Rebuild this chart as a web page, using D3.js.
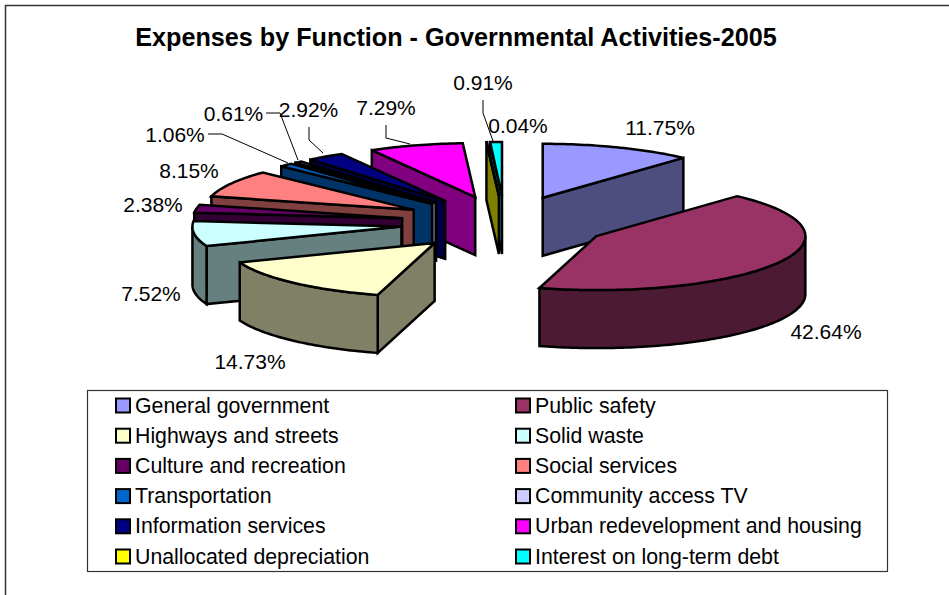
<!DOCTYPE html>
<html lang="en">
<head>
<meta charset="UTF-8">
<title>Expenses by Function - Governmental Activities-2005</title>
<script src="https://d3js.org/d3.v7.min.js"></script>
<style>
    html, body { margin: 0; padding: 0; background: #fff; }
    svg { display: block; }
    text { font-family: "Liberation Sans", Arial, sans-serif; fill: #000; }
    .title { font-size: 25.2px; font-weight: bold; }
    .label { font-size: 21px; }
    .legend-text { font-size: 21.3px; }
</style>
</head>
<body>
<div id="chart"></div>
<script>
// Data
const categories = ["General government", "Public safety", "Highways and streets", "Solid waste",
    "Culture and recreation", "Social services", "Transportation", "Community access TV",
    "Information services", "Urban redevelopment and housing", "Unallocated depreciation",
    "Interest on long-term debt"];
const shares = [11.75, 42.64, 14.73, 7.52, 2.38, 8.15, 1.06, 0.61, 2.92, 7.29, 0.04, 0.91];
const colors = ["#9999ff", "#993366", "#ffffcc", "#ccffff", "#660066", "#ff8080",
    "#0066cc", "#ccccff", "#000080", "#ff00ff", "#ffff00", "#00ffff"];

// Label centres and leader elbows, same order as categories
const labelPos = [[660, 127], [826, 331], [250, 361], [151, 293], [153, 204], [189, 170],
    [175, 134], [233.5, 113], [308.5, 109], [386, 107], [518, 125], [483, 82]];
const leaders = {
    6: [[208, 134], [222, 134], [288, 163]],
    7: [[266, 113], [280, 113], [298, 160]],
    8: [[309, 127], [309, 140], [323, 153]],
    9: [[386, 125], [386, 138], [410, 144]],
    11: [[483, 100], [483, 113], [493, 141]]
};

const W = 949, H = 595;
const svg = d3.select("#chart").append("svg").attr("width", W).attr("height", H);

// Outer chart frame
svg.append("path").attr("d", `M5.5,${H}V5.5H${W}`)
    .attr("fill", "none").attr("stroke", "#333").attr("stroke-width", 1.5);

svg.append("text").attr("class", "title").attr("x", 456).attr("y", 46)
    .attr("text-anchor", "middle").text("Expenses by Function - Governmental Activities-2005");

// Tilted pie: an ellipse with walls, every slice pulled out 50% along its mid angle
const cx = 505, cy = 223, rx = 209, ry = 54, depth = 58, explode = 0.5;
const slices = d3.pie().sort(null).value(d => d)(shares);

const pt = (o, a, z = 0) => [o[0] + rx * Math.sin(a), o[1] - ry * Math.cos(a) + z];
const arcPts = (o, a0, a1, z = 0) => {
    const n = Math.max(2, Math.ceil((a1 - a0) / 0.02));
    return d3.range(n + 1).map(i => pt(o, a0 + (a1 - a0) * i / n, z));
};
const line = d3.line();
const half = c => { const r = d3.rgb(c); return d3.rgb(r.r / 2, r.g / 2, r.b / 2).formatHex(); };

const pieG = svg.append("g").attr("stroke", "#000").attr("stroke-width", 2.5)
    .attr("stroke-linejoin", "miter").attr("stroke-miterlimit", 3);

// Paint back to front: right side first, then the left side coming forward
const mid = s => (s.startAngle + s.endAngle) / 2;
const order = slices.filter(s => mid(s) < Math.PI)
    .concat(slices.filter(s => mid(s) >= Math.PI).sort((a, b) => mid(b) - mid(a)));

order.forEach(s => {
    const m = mid(s), a0 = s.startAngle, a1 = s.endAngle;
    const o = [cx + explode * rx * Math.sin(m), cy - explode * ry * Math.cos(m)];
    const top = colors[s.index], wall = half(top);
    const g = pieG.append("g");
    const face = (pts, fill) => g.append("path").attr("d", line(pts) + "Z").attr("fill", fill);

    // Cut faces that turn towards the viewer
    if (Math.sin(a0) < -1e-6) {
        const p = pt(o, a0);
        face([o, p, [p[0], p[1] + depth], [o[0], o[1] + depth]], wall);
    }
    if (Math.sin(a1) > 1e-6) {
        const p = pt(o, a1);
        face([o, p, [p[0], p[1] + depth], [o[0], o[1] + depth]], wall);
    }
    // Rim, only the part on the near half of the ellipse
    const r0 = Math.max(a0, Math.PI / 2), r1 = Math.min(a1, Math.PI * 1.5);
    if (r1 > r0) {
        face(arcPts(o, r0, r1).concat(arcPts(o, r0, r1, depth).reverse()), wall);
    }
    // Top
    face([o].concat(arcPts(o, a0, a1)), top);
});

// Labels and leaders
svg.append("g").selectAll("text").data(shares).join("text")
    .attr("class", "label").attr("text-anchor", "middle").attr("dominant-baseline", "central")
    .attr("x", (d, i) => labelPos[i][0]).attr("y", (d, i) => labelPos[i][1])
    .text(d => d.toFixed(2) + "%");
svg.append("g").selectAll("path").data(Object.values(leaders)).join("path")
    .attr("d", d => line(d)).attr("fill", "none").attr("stroke", "#000").attr("stroke-width", 1);

// Legend, two columns
const legendBox = { x: 87.5, y: 390.5, w: 800, h: 181 };
svg.append("rect").attr("x", legendBox.x).attr("y", legendBox.y)
    .attr("width", legendBox.w).attr("height", legendBox.h)
    .attr("fill", "#fff").attr("stroke", "#333").attr("stroke-width", 1.2);

const rowY = d3.scalePoint().domain(d3.range(6)).range([405.5, 556.5]);
const colX = [116, 516];
const leg = svg.append("g").selectAll("g").data(categories).join("g")
    .attr("transform", (d, i) => `translate(${colX[i % 2]},${rowY(Math.floor(i / 2))})`);
leg.append("rect").attr("x", 0).attr("y", -7).attr("width", 14).attr("height", 14)
    .attr("fill", (d, i) => colors[i]).attr("stroke", "#000").attr("stroke-width", 2);
leg.append("text").attr("class", "legend-text").attr("x", 19).attr("dominant-baseline", "central")
    .text(d => d);
</script>
</body>
</html>
